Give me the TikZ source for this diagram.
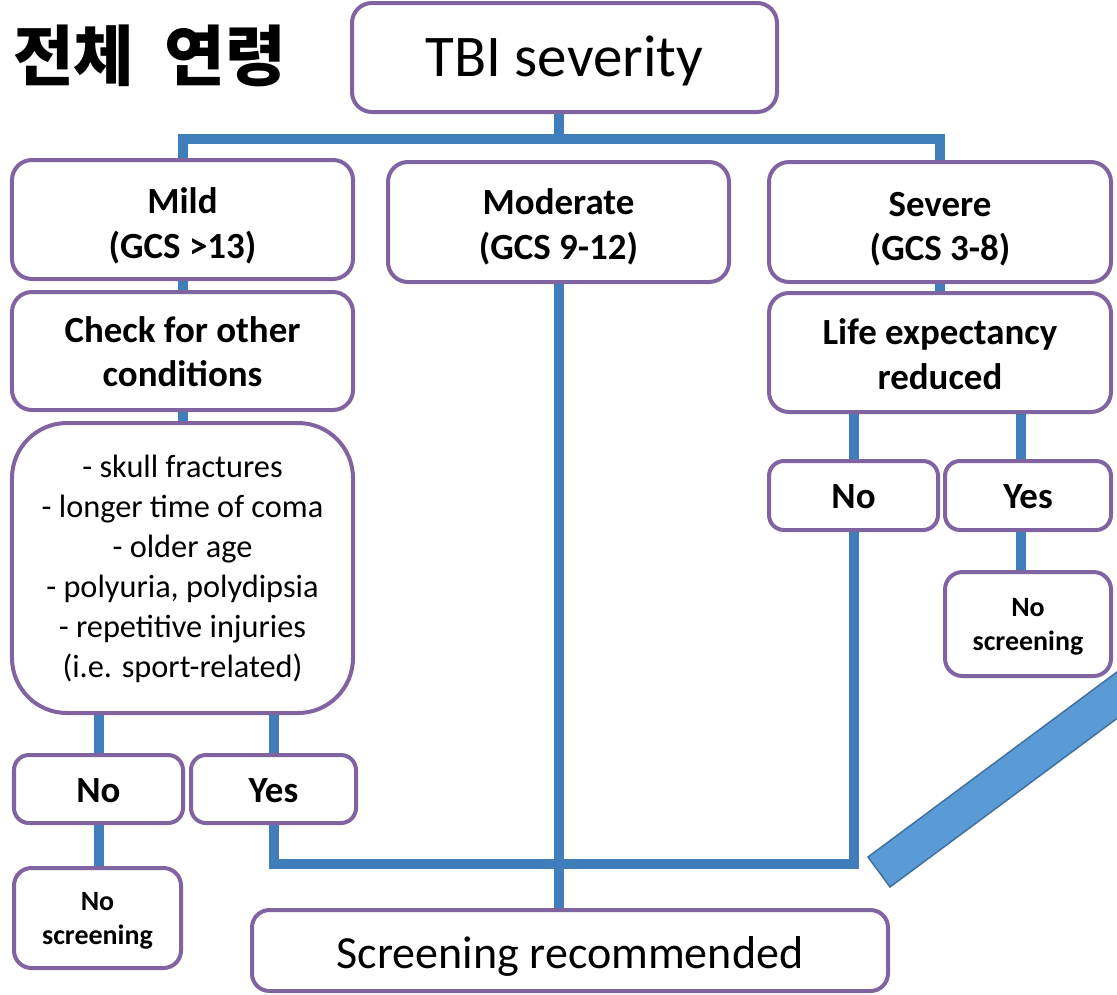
\documentclass[tikz,border=0pt]{standalone}
\usepackage{fontspec}
\setmainfont{Carlito}
\newfontfamily\krfont{Noto Sans CJK KR}
\usetikzlibrary{backgrounds}
\definecolor{lineblue}{HTML}{407DBB}
\definecolor{boxpurple}{HTML}{8064A2}
\definecolor{barfill}{HTML}{5B9BD5}
\definecolor{barline}{HTML}{41719C}
\newcommand\tx[2][0.1cm]{\raisebox{-#1}[\height][\depth]{\begin{tabular}{@{}c@{}}#2\end{tabular}}}
\tikzset{
  box/.style={draw=boxpurple, line width=0.08cm, rounded corners=0.4cm, fill=white,
    inner sep=0pt, align=center, text=black},
  smallbox/.style={box, rounded corners=0.3cm},
  bigtxt/.style={font=\fontsize{33.6}{40}\selectfont},
  midtxt/.style={font=\fontsize{26.2}{30}\selectfont},
  boldtxt/.style={font=\fontsize{21}{25.6}\selectfont\bfseries},
  listtxt/.style={font=\fontsize{18.4}{22.8}\selectfont},
  smalltxt/.style={font=\fontsize{15.9}{19.4}\selectfont\bfseries},
  conn/.style={draw=lineblue, line width=0.2cm},
  bar/.style={draw=barline, fill=barfill, line width=0.03cm},
}
\begin{document}
\begin{tikzpicture}
\useasboundingbox (0,0) rectangle (22.34,-19.88);

% title
\node[anchor=base west, inner sep=0pt, font=\krfont\bfseries\fontsize{37.5}{40}\selectfont] (title) at (0.26,-1.60) {전체\hspace{0.6cm}연령};

% boxes
\node[box,bigtxt,minimum width=8.5cm,minimum height=2.18cm] (tbi) at (11.29,-1.15) {\tx[0.1cm]{TBI severity}};
\node[box,boldtxt,minimum width=6.82cm,minimum height=2.38cm] (mild) at (3.65,-4.39) {\tx[0.15cm]{Mild\\(GCS >13)}};
\node[box,boldtxt,minimum width=6.82cm,minimum height=2.40cm] (mod) at (11.17,-4.44) {\tx[0.12cm]{Moderate\\(GCS 9-12)}};
\node[box,boldtxt,minimum width=6.84cm,minimum height=2.40cm] (sev) at (18.80,-4.44) {\tx[0.15cm]{Severe\\(GCS 3-8)}};
\node[box,boldtxt,minimum width=6.82cm,minimum height=2.36cm] (check) at (3.65,-7.02) {\tx[0.09cm]{Check for other\\conditions}};
\node[box,boldtxt,minimum width=6.84cm,minimum height=2.38cm] (life) at (18.80,-7.05) {\tx[0.1cm]{Life expectancy\\reduced}};
\node[box,listtxt,rounded corners=1.1cm,minimum width=6.82cm,minimum height=5.80cm] (list) at (3.65,-11.36)
  {\tx[0.03cm]{- skull fractures\\- longer time of coma\\- older age\\- polyuria, polydipsia\\- repetitive injuries\\(i.e. sport-related)}};
\node[smallbox,boldtxt,minimum width=3.38cm,minimum height=1.36cm] (no1) at (1.97,-15.78) {\tx[0.08cm]{No}};
\node[smallbox,boldtxt,minimum width=3.30cm,minimum height=1.36cm] (yes1) at (5.47,-15.78) {\tx[0.08cm]{Yes}};
\node[box,smalltxt,rounded corners=0.35cm,minimum width=3.34cm,minimum height=2.0cm] (ns1) at (1.95,-18.36) {\tx[0.06cm]{No\\screening}};
\node[box,midtxt,rounded corners=0.35cm,minimum width=12.72cm,minimum height=1.62cm] (scr) at (11.40,-19.01) {\tx[0.15cm]{Screening recommended}};
\node[smallbox,boldtxt,minimum width=3.38cm,minimum height=1.38cm] (no2) at (17.07,-9.91) {\tx[0.08cm]{No}};
\node[smallbox,boldtxt,minimum width=3.32cm,minimum height=1.38cm] (yes2) at (20.56,-9.91) {\tx[0.08cm]{Yes}};
\node[box,smalltxt,rounded corners=0.35cm,minimum width=3.32cm,minimum height=2.08cm] (ns2) at (20.56,-12.48) {\tx[0.06cm]{No\\screening}};

\coordinate (bus) at (0,-2.77);
\coordinate (bot) at (17.07,-17.28);
\coordinate (yx) at ([xshift=-0.14cm]yes2.north);

% connectors
\begin{scope}[on background layer]
\draw[conn] (tbi.south -| mod.north) -- (bus -| mod.north);
\draw[conn] (mild.north) |- (bus -| sev.north) -- (sev.north);
\draw[conn] (mod.south) -- (mod.south |- scr.north);
\draw[conn] (mild.south) -- (check.north);
\draw[conn] (check.south) -- (list.north);
\draw[conn] (no1.north |- list.south) -- (no1.north);
\draw[conn] (yes1.north |- list.south) -- (yes1.north);
\draw[conn] (no1.south) -- (no1.south |- ns1.north);
\draw[conn] (yes1.south) |- (bot -| no2.south) -- (no2.south);
\draw[conn] (sev.south) -- (life.north);
\draw[conn] (no2.north |- life.south) -- (no2.north);
\draw[conn] (yx |- life.south) -- (yx);
\draw[conn] (yx |- yes2.south) -- (yx |- ns2.north);
\end{scope}

% diagonal bar
\begin{scope}
\clip (0,0) rectangle (22.34,-19.88);
\draw[bar] (17.36,-17.14) -- (17.80,-17.74) -- (23.2,-13.73) -- (23.2,-12.80) -- cycle;
\end{scope}
\end{tikzpicture}
\end{document}
